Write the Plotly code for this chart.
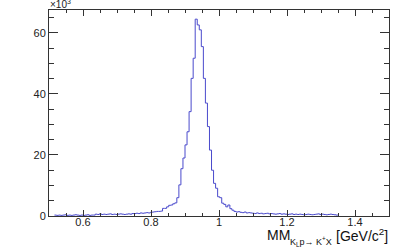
import numpy as np
import plotly.graph_objects as go

# Histogram of missing mass (counts in units of 10^3)
BIN_START = 0.516
BIN_WIDTH = 0.006
counts_left_tail = [0.3,0.2,0.3,0.2,0.3,0.4,0.2,0.3,0.2,0.3,0.4,0.3,0.2,0.3,0.2,0.3,0.4,0.2,0.3,0.3,
                    0.6,0.5,0.7,0.5,0.6,0.5,0.6,0.7,0.5,0.6,0.5,0.6,0.7,0.6,0.5,0.6,0.7,0.6,0.8,
                    0.8,0.9,0.8,1.0,0.9,1.0,1.1,1.0,1.2,1.3]
counts_peak = [1.4,1.5,1.5,1.6,2.5,2.5,3.0,3.5,3.6,4.0,4.3,6.0,10.2,15.5,19.0,23.3,27.6,34.2,45.1,51.7,
               64.5,62.6,61.0,55.5,45.1,37.0,29.3,21.6,15.0,10.7,9.1,6.3,6.0,4.2,3.8,3.0,3.6,2.4]
counts_right_tail = [1.9,1.5,1.3,1.4,1.2,1.1,1.3,1.0,1.1,
                     1.0,0.9,0.8,1.0,0.8,0.9,0.7,0.8,0.9,0.7,
                     0.8,0.7,0.6,0.7,0.8,0.6,0.7,0.6,0.5,0.6,
                     0.7,0.5,0.6,0.5,0.6,0.5,0.4,0.5,0.6,0.5,
                     0.4,0.5,0.6,0.7,0.5,0.6,0.5,0.4,0.5,0.6,
                     0.5,0.4,0.3]
counts = counts_left_tail + counts_peak + counts_right_tail

x_tickvals = [0.6, 0.8, 1.0, 1.2, 1.4]
x_ticktext = ["0.6", "0.8", "1", "1.2", "1.4"]
y_tickvals = [0, 20, 40, 60]
y_ticktext = ["0", "20", "40", "60"]

edges = BIN_START + BIN_WIDTH * np.arange(len(counts) + 1)
yvals = counts + [counts[-1]]

fig = go.Figure()
fig.add_trace(go.Scatter(x=edges, y=yvals, mode="lines", line_shape="hv",
                         line=dict(color="#4a4acc", width=1), hoverinfo="skip"))

FONT = "Liberation Sans, Arial, sans-serif"
axis_font = dict(family=FONT, size=11, color="#222222")
fig.update_layout(
    width=405, height=249,
    margin=dict(l=49, r=16, t=10, b=33),
    paper_bgcolor="white", plot_bgcolor="white",
    showlegend=False,
    font=axis_font,
)
fig.update_xaxes(range=[0.5, 1.5], tickvals=x_tickvals, ticktext=x_ticktext,
                 ticks="inside", ticklen=6, tickcolor="#333", tickwidth=1,
                 minor=dict(dtick=0.05, tick0=0.5, ticks="inside", ticklen=3, tickcolor="#333"),
                 showline=True, linecolor="#333", linewidth=1, mirror="ticks",
                 showgrid=False, zeroline=False, tickfont=axis_font, ticklabelstandoff=-4)
fig.update_yaxes(range=[0, 67.5], tickvals=y_tickvals, ticktext=y_ticktext,
                 ticks="inside", ticklen=9, tickcolor="#333", tickwidth=1,
                 minor=dict(dtick=5, tick0=0, ticks="inside", ticklen=5, tickcolor="#333"),
                 showline=True, linecolor="#333", linewidth=1, mirror="ticks",
                 showgrid=False, zeroline=False, tickfont=axis_font)

fig.add_annotation(xref="paper", yref="paper", x=-0.003, y=1.03, xanchor="left", yanchor="middle",
                   text="×10<sup>3</sup>", showarrow=False,
                   font=dict(family=FONT, size=10, color="#222"))
# x-axis title, split into parts (main, subscript, unit)
fig.add_annotation(xref="paper", yref="paper", x=0.716, y=-0.092, xanchor="right", yanchor="middle",
                   text="MM", showarrow=False, font=dict(family=FONT, size=14, color="#111"))
fig.add_annotation(xref="paper", yref="paper", x=0.838, y=-0.122, xanchor="right", yanchor="middle",
                   text="K<sub>L</sub>p→ K<sup>+</sup>X", showarrow=False,
                   font=dict(family=FONT, size=9, color="#111"))
fig.add_annotation(xref="paper", yref="paper", x=1.003, y=-0.092, xanchor="right", yanchor="middle",
                   text="[GeV/c<sup>2</sup>]", showarrow=False, font=dict(family=FONT, size=14, color="#111"))

fig.write_html("out.html", config={"displayModeBar": False},
               post_script="document.body.style.margin='0';document.body.style.overflow='hidden';")
